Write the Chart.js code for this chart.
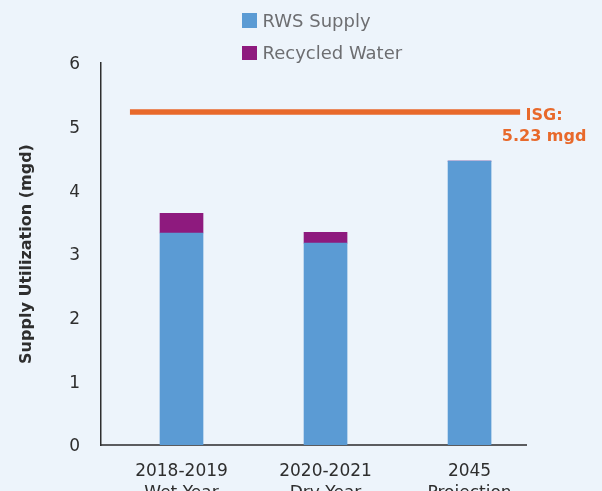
<!DOCTYPE html>
<html>
<head>
<meta charset="utf-8">
<script src="https://cdn.jsdelivr.net/npm/chart.js@4.4.1/dist/chart.umd.min.js"></script>
<style>
  body { margin: 0; background: #edf4fb; }
  #wrap { position: relative; width: 602px; height: 491px; }
  .legend { position: absolute; left: 242px; top: 4px; font: 18px "DejaVu Sans", sans-serif; color: #6d6e71; }
  .legend div { display: flex; align-items: center; height: 32.5px; }
  .legend span.box { width: 14.5px; height: 14.5px; margin-right: 6px; display: inline-block; }
</style>
</head>
<body>
<div id="wrap">
  <canvas id="supplyChart"></canvas>
  <div class="legend" id="legend"></div>
</div>
<script>
// Supply utilization data (mgd)
const categories = [["2018-2019", "Wet Year"], ["2020-2021", "Dry Year"], ["2045", "Projection"]];
const rwsSupply = [3.33, 3.17, 4.46];
const recycledWater = [0.31, 0.17, 0];
const isgLimit = 5.23;
const yTicks = [0, 1, 2, 3, 4, 5, 6];

const BLUE = '#5b9bd4';
const PURPLE = '#8e1a7e';
const ORANGE = '#e8692b';

// html legend, stacked vertically
document.getElementById('legend').innerHTML =
    [['RWS Supply', BLUE], ['Recycled Water', PURPLE]]
        .map(([t, c]) => `<div><span class="box" style="background:${c}"></span>${t}</div>`)
        .join('');

// bars sit on a linear x scale, one unit per category
const points = vals => vals.map((v, i) => ({ x: i, y: v }));

// ISG line end label
const isgLabel = {
    id: 'isgLabel',
    afterDatasetsDraw(chart) {
        const meta = chart.getDatasetMeta(2);
        const end = meta.data[meta.data.length - 1];
        const ctx = chart.ctx;
        ctx.save();
        ctx.fillStyle = ORANGE;
        ctx.font = 'bold 16px "DejaVu Sans", sans-serif';
        ctx.textAlign = 'center';
        ctx.textBaseline = 'alphabetic';
        ctx.fillText('ISG:', end.x + 24, end.y + 8);
        ctx.fillText(isgLimit + ' mgd', end.x + 24, end.y + 29);
        ctx.restore();
    }
};

function supplyChartDisplay() {
    new Chart(document.getElementById('supplyChart'), {
        type: 'bar',
        data: {
            datasets: [
                { label: 'RWS Supply', data: points(rwsSupply), backgroundColor: BLUE, barThickness: 43 },
                { label: 'Recycled Water', data: points(recycledWater), backgroundColor: PURPLE, barThickness: 43 },
                {
                    type: 'line',
                    label: 'ISG',
                    stack: 'isg',
                    data: [{ x: -0.358, y: isgLimit }, { x: 2.351, y: isgLimit }],
                    borderColor: ORANGE,
                    borderWidth: 5.5,
                    pointRadius: 0,
                    borderCapStyle: 'butt'
                }
            ]
        },
        options: {
            responsive: true,
            maintainAspectRatio: false,
            animation: false,
            layout: { padding: { top: 63, right: 76, bottom: 0, left: 0 } },
            plugins: { legend: { display: false }, tooltip: { enabled: false } },
            scales: {
                x: {
                    type: 'linear',
                    stacked: true,
                    offset: false,
                    min: -0.559,
                    max: 2.392,
                    grid: { display: false, offset: false },
                    border: { color: '#5b5c5f', width: 2 },
                    afterBuildTicks: s => { s.ticks = categories.map((c, i) => ({ value: i })); },
                    afterFit: s => { s.height = 46; },
                    ticks: {
                        callback: v => categories[v],
                        color: '#2e2e2e',
                        font: { family: '"DejaVu Sans", sans-serif', size: 17, lineHeight: '22px' },
                        padding: 8,
                        maxRotation: 0,
                        autoSkip: false
                    }
                },
                y: {
                    stacked: true,
                    min: 0,
                    max: 6,
                    grid: { display: false },
                    border: { color: '#2e2e2e', width: 1.5 },
                    afterBuildTicks: s => { s.ticks = yTicks.map(v => ({ value: v })); },
                    afterFit: s => { s.width = 101; },
                    ticks: {
                        color: '#2e2e2e',
                        font: { family: '"DejaVu Sans", sans-serif', size: 17 },
                        padding: 13,
                        labelOffset: 2
                    },
                    title: {
                        display: true,
                        text: 'Supply Utilization (mgd)',
                        color: '#2e2e2e',
                        font: { family: '"DejaVu Sans", sans-serif', size: 16, weight: 'bold' },
                        padding: { top: 17, bottom: 0 }
                    }
                }
            }
        },
        plugins: [isgLabel]
    });
}

supplyChartDisplay();
</script>
</body>
</html>
